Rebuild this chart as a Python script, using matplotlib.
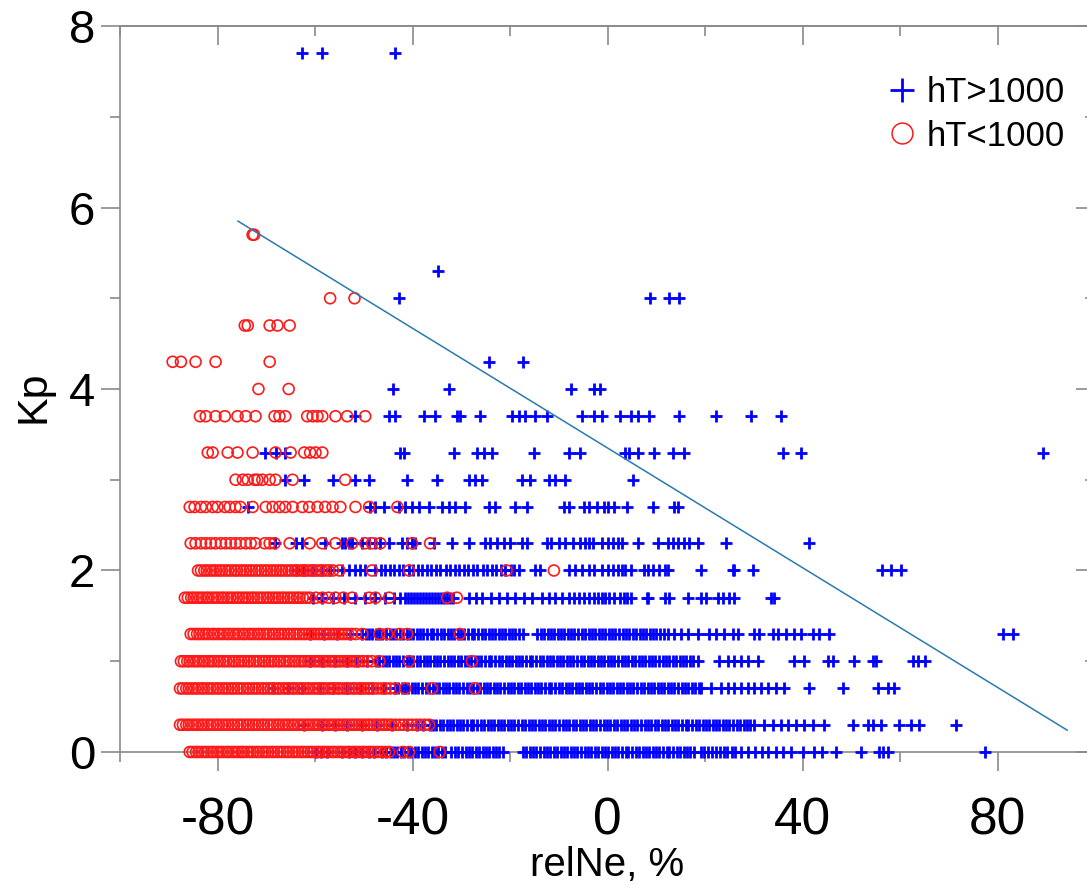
import numpy as np
import matplotlib
matplotlib.use("Agg")
import matplotlib.pyplot as plt
from matplotlib.lines import Line2D
from matplotlib.ticker import MultipleLocator

plt.rcParams['font.family'] = ['Liberation Sans', 'DejaVu Sans']
plt.rcParams['axes.unicode_minus'] = False

# relNe (%) values for hT>1000, one list per Kp level
hi_00 = [-59.9, -58.7, -57.5, -54.4, -53.0, -51.9, -50.3, -49.0, -47.9, -46.2, -45.4,
         -44.5, -43.9, -43.1, -42.4, -41.8, -41.0, -40.3, -39.5, -38.9, -38.1, -37.4, -36.8,
         -36.0, -35.3, -34.7, -33.9, -33.3, -32.2,
         -31.2, -30.6, -29.8, -29.1, -28.5, -27.7, -27.0, -26.4, -25.6, -24.9, -24.3, -23.5,
         -22.8, -22.2, -21.4,
         -17.3, -16.7, -15.9, -15.2, -14.6, -13.8, -13.1, -12.5, -11.7, -11.0, -10.4, -9.6,
         -8.9, -8.3, -7.5, -6.8, -6.2, -5.4, -4.7, -4.1, -3.3, -2.6, -2.0, -1.2, -0.5, 0.1,
         0.9, 1.6, 2.2, 3.0, 3.7, 4.3, 5.1, 5.8, 6.4, 7.2, 7.9, 8.5, 9.3, 10.0, 10.6, 11.4,
         12.1, 12.7, 13.5, 14.2, 14.8, 15.6, 16.3, 16.9, 17.7,
         19.1, 19.8, 20.7, 21.4, 22.3, 23.0, 23.9, 24.6, 25.5, 26.2, 27.4, 28.9, 30.3, 31.6,
         33.0, 34.5, 35.9, 37.6, 40.1, 42.3, 44.0, 46.8, 51.9, 55.6, 56.6, 57.5, 77.5]
hi_03 = [-62.2, -58.5, -55.9, -53.4, -50.3, -47.2, -44.2, -41.1, -39.1, -37.8,
         -36.5, -35.9, -35.1, -34.4, -33.8, -33.0, -32.3, -31.7, -30.9, -30.2, -29.6, -28.8,
         -28.1, -27.5, -26.7, -26.0, -25.4, -24.6, -23.9, -23.3, -22.5, -21.8, -21.2, -20.4,
         -19.7, -19.1, -18.3, -17.6, -17.0, -16.2, -15.5, -14.9, -14.1, -13.4, -12.8, -12.0,
         -11.3, -10.7, -9.9, -9.2, -8.6, -7.8, -7.1, -6.5, -5.7, -5.0, -4.4, -3.6, -2.9,
         -2.3, -1.5, -0.8, -0.2, 0.6, 1.3, 1.9, 2.7, 3.4, 4.0, 4.8, 5.5, 6.1, 6.9, 7.6, 8.2,
         9.0, 9.7, 10.3, 11.1, 11.8, 12.4, 13.2, 13.9, 14.5, 15.3, 16.0, 16.6, 17.4, 18.1,
         18.7, 19.5, 20.2, 20.8, 21.6, 22.3, 22.9, 23.7, 24.4, 25.0, 25.8, 26.5, 27.1, 27.9,
         28.6, 29.2, 30.1,
         32.1, 33.9, 35.6, 37.0, 38.7, 40.3, 42.1, 44.4, 50.3, 53.4, 54.4, 56.0, 59.7, 62.2,
         63.8, 71.4]
hi_07 = [-68.7, -65.6, -62.6, -58.9, -56.4, -53.4, -50.7, -48.3, -45.8,
         -43.6, -43.0, -42.2, -41.5, -40.9, -40.1, -39.4, -38.8, -38.0, -37.3, -36.7, -35.9,
         -35.2, -34.6, -33.8, -33.1, -32.5, -31.7, -31.0, -30.4, -29.6, -28.9, -28.3, -27.5,
         -26.8, -26.2, -25.4, -24.7, -24.1, -23.3, -22.6, -22.0, -21.2, -20.5, -19.9, -19.1,
         -18.4, -17.8, -17.0, -16.3, -15.7, -14.9, -14.2, -13.6, -12.8, -12.1, -11.5, -10.7,
         -10.0, -9.4, -8.6, -7.9, -7.3, -6.5, -5.8, -5.2, -4.4, -3.7, -3.1, -2.3, -1.6, -1.0,
         -0.2, 0.5, 1.1, 1.9, 2.6, 3.2, 4.0, 4.7, 5.3, 6.1, 6.8, 7.4, 8.2, 8.9, 9.5, 10.3,
         11.0, 11.6, 12.4, 13.1, 13.7, 14.5, 15.2, 15.8, 16.6, 17.3, 17.9, 18.7, 19.2,
         21.3, 23.3, 24.7, 26.0, 27.4, 28.8, 30.1, 31.5, 32.9, 34.6, 36.2, 41.3, 48.3, 55.4,
         57.5, 58.7]
hi_10 = [-61.1, -58.5, -55.8, -53.4, -51.3, -49.3,
         -47.5, -46.8, -46.1, -45.4, -44.8, -44.0, -43.3, -42.7, -41.9, -41.2, -40.6, -39.8,
         -39.1, -38.5, -37.7, -37.0, -36.4, -35.6, -34.9, -34.3, -33.5, -32.8, -32.2, -31.4,
         -30.7, -30.1, -29.3, -28.6, -28.0, -27.2, -26.5, -25.9, -25.1, -24.4, -23.8, -23.0,
         -22.3, -21.7, -20.9, -20.2, -19.6, -18.8, -18.1, -17.5, -16.7, -16.0, -15.4, -14.6,
         -13.9, -13.3, -12.5, -11.8, -11.2, -10.4, -9.7, -9.1, -8.3, -7.6, -7.0, -6.2, -5.5,
         -4.9, -4.1, -3.4, -2.8, -2.0, -1.3, -0.7, 0.1, 0.8, 1.4, 2.2, 2.9, 3.5, 4.3, 5.0,
         5.6, 6.4, 7.1, 7.7, 8.5, 9.2, 9.8, 10.6, 11.3, 11.9, 12.7, 13.4, 14.0, 14.8, 15.5,
         16.1, 16.9, 17.6, 18.6,
         22.9, 24.7, 26.0, 27.4, 28.8, 30.9, 38.2, 40.3, 45.2, 46.2, 50.5, 54.4, 55.0, 62.6,
         63.6, 65.2]
hi_13 = [-61.1, -58.1, -55.4, -52.8,
         -50.3, -49.6, -48.9, -48.3, -47.5, -46.8, -46.2, -45.4, -44.7, -44.1, -43.3, -42.6,
         -42.0, -41.2, -40.5, -39.9, -39.1, -38.4, -37.8, -37.0, -36.3, -35.7, -34.9, -34.2,
         -33.6, -32.8, -32.1, -31.5, -30.7, -30.0, -29.4, -28.6, -27.9, -27.3, -26.5, -25.8,
         -25.2, -24.4, -23.7, -23.1, -22.3, -21.6, -21.0, -20.2, -19.5, -18.9, -18.1, -17.4,
         -14.4, -13.7, -13.1, -12.3, -11.6, -11.0, -10.2, -9.5, -8.9, -8.1, -7.4, -6.8, -6.0,
         -5.3, -4.7, -3.9, -3.2, -2.6, -1.8, -1.1, -0.5, 0.3, 1.0, 1.6, 2.4, 3.1, 3.7, 4.5,
         5.2, 5.8, 6.6, 7.3, 7.9, 8.7, 9.4, 10.0, 10.8, 11.5, 12.5,
         13.7, 15.1, 16.6, 18.6, 20.9, 22.3, 23.9, 25.8, 26.8, 30.1, 31.1, 33.9, 35.0, 36.6,
         38.2, 39.7, 42.1, 43.4, 45.4, 81.2, 83.2]
hi_17 = [-60.5, -58.5, -56.4, -54.0, -51.9, -49.7, -47.6, -45.6, -43.8, -42.5, -41.5,
         -41.0, -40.3, -39.7, -39.1, -38.5, -37.8, -37.2, -36.6, -36.0, -35.4, -34.8, -34.2,
         -33.5, -32.9, -32.3, -31.7, -28.4, -27.0, -25.8, -24.0, -22.3, -20.6, -19.0, -17.2,
         -15.5, -13.5, -12.1, -10.8, -9.4, -7.8, -6.8, -5.9, -4.8, -3.9, -2.7, -1.9, -1.2,
         -0.6, 0.4, 1.4, 2.5, 3.3, 3.9, 4.9, 8.0, 8.4, 11.7, 12.7, 16.6, 19.2, 20.2, 22.7,
         23.7, 24.9, 26.0, 33.5, 34.2]
hi_20 = [-64.0, -62.2, -60.5, -58.5, -56.9, -54.4, -53.0, -51.7, -50.7, -49.7,
         -47.6, -46.5, -45.7, -44.6, -43.8, -42.7, -41.9, -40.8, -40.0, -38.9, -38.1, -37.0,
         -36.2, -35.1, -34.3, -33.2, -32.4, -31.3, -30.5, -29.4, -28.6, -27.5, -26.7, -25.6,
         -24.8, -23.7, -22.9, -21.8, -21.0, -19.9, -19.1, -18.2, -14.9, -13.9,
         -7.8, -6.6, -5.3, -3.9, -2.7, -1.2, 0.2, 1.2, 2.2, 2.9, 3.5, 4.9, 7.4, 8.4, 9.4,
         10.6, 11.7, 12.5, 19.2, 25.8, 26.0, 29.9, 56.4, 58.1, 60.1]
hi_23 = [-68.3, -64.0, -62.6, -57.9, -54.4, -53.8, -53.0, -52.4, -50.3, -48.9, -47.6,
         -46.6, -44.8, -42.1, -41.1, -40.1, -39.5, -35.6, -31.9, -28.4, -25.2, -24.1, -22.7,
         -21.3, -20.0, -17.6, -16.6, -12.5, -11.5, -10.0, -8.8, -7.0, -5.7, -4.7, -3.9, -2.9,
         -1.2, 0.2, 1.2, 2.2, 2.9, 6.3, 10.4, 12.5, 13.5, 14.5, 15.7, 16.8, 18.6, 24.3, 41.3]
hi_27 = [-73.8, -48.7, -47.6, -45.8, -42.7, -41.5, -40.1, -38.7, -36.6, -33.9, -32.5,
         -31.3, -29.2, -24.3, -23.1, -19.0, -16.6, -9.0, -7.8, -4.9, -3.9, -2.2, -0.8, 0.2,
         1.4, 3.9, 9.4, 13.7, 14.5]
hi_30 = [-66.1, -62.2, -56.4, -51.9, -48.9, -41.1, -35.0, -28.4, -27.2, -25.8, -17.6,
         -16.0, -12.1, -10.8, -8.8, 5.3]
hi_33 = [-70.3, -68.1, -66.1, -42.5, -41.7, -31.5, -26.8, -25.4, -23.7, -15.1, -8.0,
         -5.7, 3.5, 4.5, 6.3, 9.6, 13.5, 15.7, 36.0, 39.7, 89.4]
hi_37 = [-51.9, -44.8, -43.6, -37.6, -35.4, -30.9, -30.3, -26.2, -19.6, -18.2, -17.0,
         -14.9, -12.5, -5.3, -2.7, -1.2, 2.5, 4.9, 6.3, 8.6, 14.7, 22.3, 29.4, 35.6]
hi_40 = [-44.0, -32.5, -7.4, -2.7, -1.6]
hi_43 = [-24.3, -17.4]
hi_50 = [-42.7, 8.8, 12.7, 14.7]
hi_53 = [-34.8]
hi_77 = [-62.6, -58.5, -43.6]

# relNe (%) values for hT<1000, one list per Kp level
lo_00 = [-85.7, -85.1, -84.4, -83.9, -83.2, -82.6, -82.0, -81.3, -80.8, -80.1, -79.5,
         -78.9, -78.2, -77.7, -77.0, -76.4, -75.8, -75.1, -74.6, -73.9, -73.3, -72.7, -72.0,
         -71.5, -70.8, -70.2, -69.6, -68.9, -68.4, -67.7, -67.1, -66.5, -65.8, -65.3, -64.6,
         -64.0, -63.4, -62.7, -62.2, -61.5, -60.9, -60.3, -59.6, -59.1, -58.4, -57.8, -57.2,
         -56.5, -56.0, -55.3, -54.7, -54.1, -53.4, -52.9, -52.2, -51.6, -51.0, -50.3, -49.8,
         -49.1, -48.5, -47.9, -47.2, -46.4, -45.6, -44.8, -42.0, -40.7, -34.4]
lo_03 = [-87.7, -87.1, -86.4, -85.9, -85.2, -84.6, -84.0, -83.3, -82.8, -82.1, -81.5,
         -80.9, -80.2, -79.7, -79.0, -78.4, -77.8, -77.1, -76.6, -75.9, -75.3, -74.7, -74.0,
         -73.5, -72.8, -72.2, -71.6, -70.9, -70.4, -69.7, -69.1, -68.5, -67.8, -67.3, -66.6,
         -66.0, -65.4, -64.7, -64.2, -63.5, -62.9, -62.3, -61.6, -61.1, -60.4, -59.8, -59.2,
         -58.5, -58.0, -57.3, -56.7, -56.1, -55.4, -54.9, -54.2, -53.6, -53.0, -52.3, -51.8,
         -51.1, -50.5, -49.9, -49.2, -48.7, -48.0, -47.4, -46.8, -46.1, -45.6, -44.9, -44.3,
         -43.5, -42.6, -41.8, -40.9, -40.1, -39.2, -38.4, -37.5, -36.6]
lo_07 = [-87.7, -87.1, -86.4, -85.9, -85.2, -84.6, -84.0, -83.3, -82.8, -82.1, -81.5,
         -80.9, -80.2, -79.7, -79.0, -78.4, -77.8, -77.1, -76.6, -75.9, -75.3, -74.7, -74.0,
         -73.5, -72.8, -72.2, -71.6, -70.9, -70.4, -69.7, -69.1, -68.5, -67.8, -67.3, -66.6,
         -66.0, -65.4, -64.7, -64.2, -63.5, -62.9, -62.3, -61.6, -61.1, -60.4, -59.8, -59.2,
         -58.5, -58.0, -57.3, -56.7, -56.1, -55.4, -54.9, -54.2, -53.6, -53.0, -52.3, -51.8,
         -51.1, -50.5, -49.9, -49.2, -48.7, -48.0, -47.2, -46.3, -45.5, -44.6, -43.6, -41.5,
         -36.0, -27.2]
lo_10 = [-87.5, -86.9, -86.2, -85.7, -85.0, -84.4, -83.8, -83.1, -82.6, -81.9, -81.3,
         -80.7, -80.0, -79.5, -78.8, -78.2, -77.6, -76.9, -76.4, -75.7, -75.1, -74.5, -73.8,
         -73.3, -72.6, -72.0, -71.4, -70.7, -70.2, -69.5, -68.9, -68.3, -67.6, -67.1, -66.4,
         -65.8, -65.2, -64.5, -64.0, -63.3, -62.7, -62.1, -61.4, -60.9, -60.2, -59.6, -59.0,
         -58.3, -57.8, -57.1, -56.5, -55.9, -55.2, -54.7, -54.0, -53.4, -52.8, -52.1, -51.6,
         -50.9, -50.1, -49.2, -48.3, -46.8, -40.7, -27.8]
lo_13 = [-85.5, -84.9, -84.2, -83.7, -83.0, -82.4, -81.8, -81.1, -80.6, -79.9, -79.3,
         -78.7, -78.0, -77.5, -76.8, -76.2, -75.6, -74.9, -74.4, -73.7, -73.1, -72.5, -71.8,
         -71.3, -70.6, -70.0, -69.4, -68.7, -68.2, -67.5, -66.9, -66.3, -65.6, -65.1, -64.4,
         -63.8, -63.2, -62.5, -62.0, -61.3, -60.7, -60.1, -59.4, -58.9, -58.2, -57.6, -57.0,
         -56.3, -55.8, -55.1, -54.5, -53.9, -53.2, -52.5, -51.6, -50.3, -46.8, -45.2, -42.7,
         -41.1, -30.3]
lo_17 = [-86.7, -86.1, -85.4, -84.9, -84.2, -83.6, -83.0, -82.3, -81.8, -81.1, -80.5,
         -79.9, -79.2, -78.7, -78.0, -77.4, -76.8, -76.1, -75.6, -74.9, -74.3, -73.7, -73.0,
         -72.5, -71.8, -71.2, -70.6, -69.9, -69.4, -68.7, -68.1, -67.5, -66.8, -66.3, -65.6,
         -65.0, -64.4, -63.7, -63.2, -62.5, -61.8, -61.1, -59.8, -58.5, -57.2, -55.8, -54.2,
         -52.4, -48.9, -47.6, -44.8, -32.9, -30.9]
lo_20 = [-84.0, -83.4, -82.7, -82.2, -81.5, -80.9, -80.3, -79.6, -79.1, -78.4, -77.8,
         -77.2, -76.5, -76.0, -75.3, -74.7, -74.1, -73.4, -72.9, -72.2, -71.6, -71.0, -70.3,
         -69.8, -69.1, -68.5, -67.9, -67.2, -66.7, -66.0, -65.4, -64.8, -64.1, -63.6, -62.9,
         -62.3, -61.7, -61.0, -60.5, -59.8, -59.2, -58.6, -57.9, -57.2, -56.3, -55.0, -48.3,
         -40.7, -20.7, -11.0]
lo_23 = [-85.5, -84.5, -83.4, -82.4, -81.4, -80.4, -79.3, -78.3, -77.3, -76.3, -75.3,
         -74.2, -73.2, -72.2, -70.3, -69.3, -68.3, -65.2, -61.1, -58.5, -55.8, -52.4, -49.7,
         -48.3, -46.6, -40.1, -36.4]
lo_27 = [-85.7, -84.7, -83.4, -82.4, -81.0, -80.0, -78.5, -77.5, -76.3, -75.3, -72.8,
         -70.1, -68.7, -67.3, -66.1, -64.6, -62.6, -61.2, -59.5, -57.9, -56.4, -54.8, -51.7,
         -48.9, -43.1]
lo_30 = [-76.3, -74.8, -73.8, -72.4, -71.8, -70.8, -69.3, -68.1, -64.6, -53.8]
lo_33 = [-82.0, -81.0, -77.9, -75.9, -72.8, -68.1, -65.0, -62.2, -61.0, -59.9, -58.5]
lo_37 = [-83.6, -82.4, -80.4, -78.5, -75.9, -74.2, -72.2, -68.3, -67.3, -66.1, -61.6,
         -60.5, -59.5, -58.5, -55.8, -53.4, -49.7]
lo_40 = [-71.6, -65.4]
lo_43 = [-89.2, -87.5, -84.5, -80.4, -69.3]
lo_47 = [-74.4, -73.8, -69.3, -67.7, -65.2]
lo_50 = [-56.9, -51.9]
lo_57 = [-72.8, -72.5]

hi_rows = [(0.0, hi_00), (0.3, hi_03), (0.7, hi_07), (1.0, hi_10), (1.3, hi_13),
           (1.7, hi_17), (2.0, hi_20), (2.3, hi_23), (2.7, hi_27), (3.0, hi_30),
           (3.3, hi_33), (3.7, hi_37), (4.0, hi_40), (4.3, hi_43), (5.0, hi_50),
           (5.3, hi_53), (7.7, hi_77)]
lo_rows = [(0.0, lo_00), (0.3, lo_03), (0.7, lo_07), (1.0, lo_10), (1.3, lo_13),
           (1.7, lo_17), (2.0, lo_20), (2.3, lo_23), (2.7, lo_27), (3.0, lo_30),
           (3.3, lo_33), (3.7, lo_37), (4.0, lo_40), (4.3, lo_43), (4.7, lo_47),
           (5.0, lo_50), (5.7, lo_57)]

# linear trend line end points
fit_x = [-75.8, 94.3]
fit_kp = [5.85, 0.24]

hi_x = np.concatenate([xs for _, xs in hi_rows])
hi_y = np.concatenate([[kp] * len(xs) for kp, xs in hi_rows])
lo_x = np.concatenate([xs for _, xs in lo_rows])
lo_y = np.concatenate([[kp] * len(xs) for kp, xs in lo_rows])

grey = '#8a8a8a'

fig = plt.figure(figsize=(10.87, 8.85), dpi=100)
ax = fig.add_axes([0.1104, 0.1503, 0.897, 0.8203])

ax.scatter(hi_x, hi_y, marker='+', s=70, c='#0000ff', linewidths=2.0,
           clip_on=False, zorder=3)
ax.scatter(lo_x, lo_y, marker='o', s=62, facecolors='none', edgecolors='#ff1a1a',
           linewidths=1.2, clip_on=False, zorder=4)
ax.plot(fit_x, fit_kp, color='#2a7ab0', lw=1.1, zorder=5)

ax.set_xlim(-100, 100)
ax.set_ylim(0, 8)
ax.set_xticks([-80, -40, 0, 40, 80])
ax.xaxis.set_minor_locator(MultipleLocator(20))
ax.set_yticks([0, 2, 4, 6, 8])
ax.yaxis.set_minor_locator(MultipleLocator(1))

for sp in ax.spines.values():
    sp.set_color(grey)
    sp.set_linewidth(1.2)

ax.tick_params(which='major', direction='out', length=14, width=1.2, color=grey)
ax.tick_params(which='minor', direction='out', length=7, width=1.2, color=grey)
ax.tick_params(axis='x', labelsize=37, pad=18)
ax.tick_params(axis='y', labelsize=34, pad=4)

# inward ticks on the top and right edges
top = ax.secondary_xaxis('top')
top.set_xticks([-80, -40, 0, 40, 80])
top.xaxis.set_minor_locator(MultipleLocator(20))
top.tick_params(which='major', direction='in', length=14, width=1.2, color=grey, labeltop=False)
top.tick_params(which='minor', direction='in', length=7, width=1.2, color=grey)
top.spines['top'].set_color(grey)
top.spines['top'].set_linewidth(1.2)

right = ax.secondary_yaxis('right')
right.set_yticks([0, 2, 4, 6, 8])
right.yaxis.set_minor_locator(MultipleLocator(1))
right.tick_params(which='major', direction='in', length=14, width=1.2, color=grey, labelright=False)
right.tick_params(which='minor', direction='in', length=7, width=1.2, color=grey)
right.spines['right'].set_color(grey)

ax.set_xlabel('relNe, %', fontsize=29)
ax.xaxis.set_label_coords(0.5, -0.13)
ax.set_ylabel('Kp', fontsize=31)
ax.yaxis.set_label_coords(-0.068, 0.49)

handles = [Line2D([], [], marker='+', ls='none', color='#0000ff', markersize=17, mew=2.0),
           Line2D([], [], marker='o', ls='none', mfc='none', mec='#ff1a1a', markersize=15, mew=1.1)]
ax.legend(handles, ['hT>1000', 'hT<1000'], loc='upper left',
          bbox_to_anchor=(0.817, 0.914), bbox_transform=fig.transFigure,
          frameon=False, fontsize=25, handlelength=0.8, handletextpad=0.3,
          labelspacing=0.3, borderpad=0, borderaxespad=0)

fig.savefig('out.png', dpi=100)
